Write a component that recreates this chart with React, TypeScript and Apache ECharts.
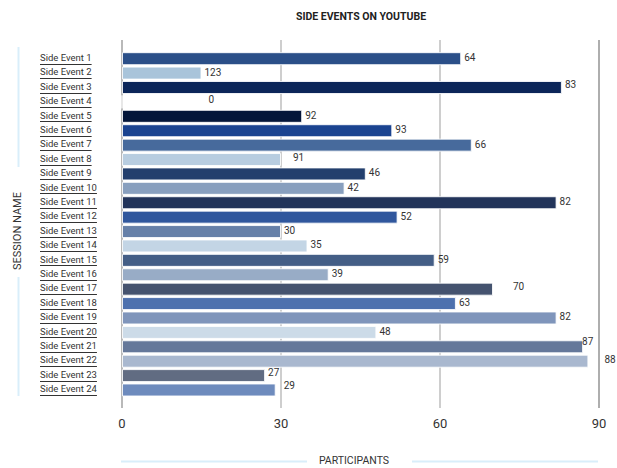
import React, { useEffect, useRef } from "react";
import * as echarts from "echarts";

// Sessions, top to bottom
const categories = [
  "Side Event 1", "Side Event 2", "Side Event 3", "Side Event 4",
  "Side Event 5", "Side Event 6", "Side Event 7", "Side Event 8",
  "Side Event 9", "Side Event 10", "Side Event 11", "Side Event 12",
  "Side Event 13", "Side Event 14", "Side Event 15", "Side Event 16",
  "Side Event 17", "Side Event 18", "Side Event 19", "Side Event 20",
  "Side Event 21", "Side Event 22", "Side Event 23", "Side Event 24",
];

// Bar lengths (participants)
const participants = [
  64, 15, 83, 0, 34, 51, 66, 30, 46, 42, 82, 52,
  30, 35, 59, 39, 70, 63, 82, 48, 87, 88, 27, 29,
];

// Numbers printed beside each bar
const labelValues = [
  64, 123, 83, 0, 92, 93, 66, 91, 46, 42, 82, 52,
  30, 35, 59, 39, 70, 63, 82, 48, 87, 88, 27, 29,
];

// Participants axis ticks
const xTicks = [0, 30, 60, 90];

const barColors = [
  "#2b4f88", "#a9c4da", "#0c2659", "#ffffff", "#04163a", "#1a4390",
  "#476a9c", "#b8cde0", "#233f6d", "#889fbe", "#22345a", "#30579d",
  "#6680a8", "#c3d5e5", "#445e86", "#98acc6", "#45536f", "#4e71ae",
  "#7f95bb", "#ccdbe8", "#65789a", "#a9b8cf", "#616c82", "#6e8bbd",
];

// Per-row nudges of the value labels [dx, dy]
const labelNudges: Record<number, [number, number]> = {
  2: [0, -3],
  3: [83, -2],
  7: [9, -2],
  16: [17, -3],
  20: [-4, -5],
  21: [13, -2],
  22: [0, -3],
  23: [5, -4],
};

const FONT = "Roboto, 'Noto Sans', sans-serif";
const CAT_FONT_SIZE = 9.5;

function measure(text: string): number {
  const ctx = document.createElement("canvas").getContext("2d");
  if (!ctx) return text.length * 4.3;
  ctx.font = `${CAT_FONT_SIZE}px Roboto`;
  return ctx.measureText(text).width;
}

export default function App() {
  const ref = useRef<HTMLDivElement>(null);

  useEffect(() => {
    if (!ref.current) return;
    const chart = echarts.init(ref.current, null, { renderer: "svg" });
    const widths = categories.map(measure);

    const option: any = {
      animation: false,
      backgroundColor: "#ffffff",
      grid: [
        // gridline frame, taller than the bars
        { left: 122, right: 18, top: 40, bottom: 60 },
        // bar area
        { left: 122, right: 18, top: 51.5, bottom: 70.8 },
      ],
      xAxis: [
        {
          gridIndex: 0,
          type: "value",
          min: 0,
          max: 90,
          interval: 30,
          axisLine: { show: false },
          axisTick: { show: false },
          axisLabel: {
            margin: 9,
            fontSize: 13,
            color: "#333",
            fontFamily: FONT,
          },
          splitLine: {
            show: true,
            lineStyle: {
              width: 1.6,
              color: ["#a8a8a8", "#c2c2c2", "#c2c2c2", "#9a9a9a"],
            },
          },
        },
        {
          gridIndex: 1,
          type: "value",
          min: 0,
          max: 90,
          show: false,
        },
      ],
      yAxis: [
        { gridIndex: 0, type: "value", show: false },
        {
          gridIndex: 1,
          type: "category",
          inverse: true,
          data: categories,
          show: false,
        },
      ],
      series: [
        {
          type: "bar",
          xAxisIndex: 1,
          yAxisIndex: 1,
          barWidth: 13,
          data: participants.map((v, i) => {
            const nudge = labelNudges[i] || [0, -1];
            return {
              value: v,
              itemStyle: { color: barColors[i] },
              label: {
                formatter: String(labelValues[i]),
                offset: nudge,
              },
            };
          }),
          itemStyle: {
            borderColor: "rgba(255,255,255,0.85)",
            borderWidth: 1,
          },
          label: {
            show: true,
            position: "right",
            distance: 3,
            fontSize: 10,
            color: "#333",
            fontFamily: FONT,
          },
        },
        {
          // underlined session names along the left
          type: "custom",
          xAxisIndex: 1,
          yAxisIndex: 1,
          silent: true,
          data: categories.map((c) => [0, c]),
          renderItem: (params: any, api: any) => {
            const idx = params.dataIndex;
            const y = api.coord([0, api.value(1)])[1];
            const ly = Math.round(y + 5) + 0.5;
            return {
              type: "group",
              children: [
                {
                  type: "text",
                  x: 40,
                  y: y - 1.2,
                  style: {
                    text: categories[idx],
                    fill: "#333",
                    fontSize: CAT_FONT_SIZE,
                    fontFamily: FONT,
                    align: "left",
                    verticalAlign: "middle",
                  },
                },
                {
                  type: "line",
                  shape: { x1: 40, y1: ly, x2: 40 + widths[idx], y2: ly },
                  style: { stroke: "#333", lineWidth: 1 },
                },
              ],
            };
          },
        },
      ],
      graphic: [
        {
          type: "text",
          x: 361,
          y: 16,
          style: {
            text: "SIDE EVENTS ON YOUTUBE",
            fill: "#222",
            fontSize: 10.5,
            fontWeight: "bold",
            fontFamily: FONT,
            align: "center",
            verticalAlign: "middle",
          },
        },
        {
          type: "line",
          shape: { x1: 18.5, y1: 47, x2: 18.5, y2: 167 },
          style: { stroke: "#d9eefa", lineWidth: 2 },
        },
        {
          type: "line",
          shape: { x1: 18.5, y1: 277, x2: 18.5, y2: 396 },
          style: { stroke: "#d9eefa", lineWidth: 2 },
        },
        {
          type: "text",
          x: 17,
          y: 231,
          rotation: Math.PI / 2,
          style: {
            text: "SESSION NAME",
            fill: "#333",
            fontSize: 11,
            fontFamily: FONT,
            align: "center",
            verticalAlign: "middle",
          },
        },
        {
          type: "line",
          shape: { x1: 121, y1: 461.5, x2: 307, y2: 461.5 },
          style: { stroke: "#d9eefa", lineWidth: 2 },
        },
        {
          type: "line",
          shape: { x1: 412, y1: 461.5, x2: 598, y2: 461.5 },
          style: { stroke: "#d9eefa", lineWidth: 2 },
        },
        {
          type: "text",
          x: 354,
          y: 460,
          style: {
            text: "PARTICIPANTS",
            fill: "#333",
            fontSize: 10.5,
            fontFamily: FONT,
            align: "center",
            verticalAlign: "middle",
          },
        },
      ],
    };

    option.xAxis[0].axisLabel.formatter = (v: number) =>
      xTicks.includes(v) ? String(v) : "";

    chart.setOption(option);
    return () => chart.dispose();
  }, []);

  return (
    <div
      ref={ref}
      style={{ position: "fixed", left: 0, top: 0, width: 617, height: 468 }}
    />
  );
}
